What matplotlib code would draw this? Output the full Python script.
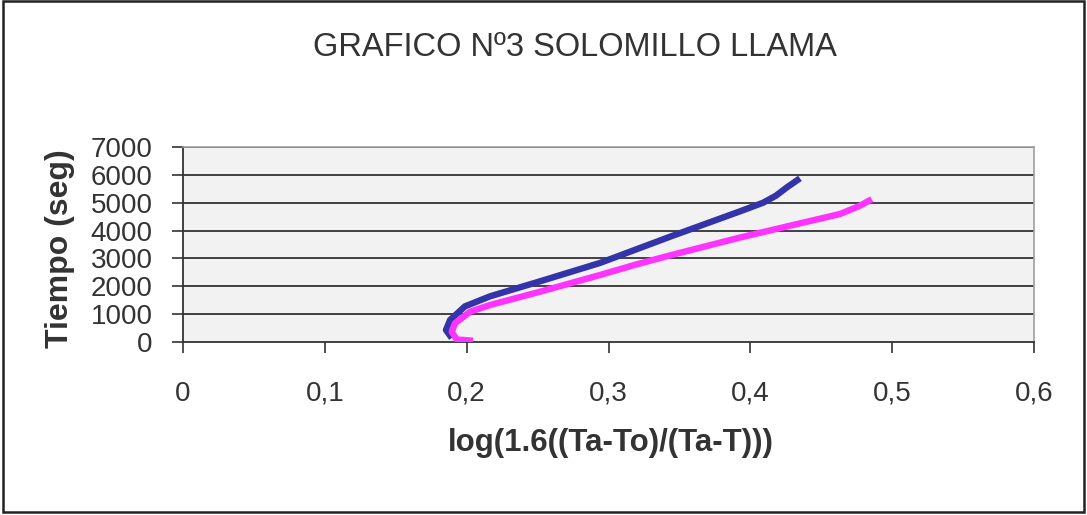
import matplotlib
matplotlib.use("Agg")
import matplotlib.pyplot as plt
from matplotlib.patches import Rectangle
from matplotlib.ticker import FuncFormatter

# Data
blue_x = [0.1895, 0.1854, 0.1883, 0.1988, 0.2165, 0.2517, 0.294, 0.3434, 0.3927, 0.409, 0.418, 0.426, 0.435]
blue_y = [144, 431, 790, 1280, 1640, 2178, 2838, 3780, 4690, 5000, 5250, 5560, 5875]

pink_x = [0.2045, 0.193, 0.1895, 0.1918, 0.2024, 0.2165, 0.2517, 0.294, 0.320, 0.3434, 0.3927, 0.428, 0.4632, 0.4773, 0.4856]
pink_y = [47, 90, 370, 671, 1088, 1328, 1805, 2405, 2790, 3110, 3750, 4175, 4594, 4892, 5125]

title = "GRAFICO Nº3 SOLOMILLO LLAMA"
xlabel = "log(1.6((Ta-To)/(Ta-T)))"
ylabel = "Tiempo (seg)"
x_ticks = [0, 0.1, 0.2, 0.3, 0.4, 0.5, 0.6]
y_ticks = [0, 1000, 2000, 3000, 4000, 5000, 6000, 7000]

plt.rcParams['font.family'] = ['Liberation Sans', 'DejaVu Sans']

W, H = 1087, 515
fig = plt.figure(figsize=(W / 100, H / 100), dpi=100)
fig.patch.set_facecolor('white')
fig.patches.append(Rectangle((0.003, 0.006), 0.994, 0.992, transform=fig.transFigure,
                             fill=False, edgecolor='#222222', linewidth=1.8))

ax = fig.add_axes([183 / W, 1 - 342 / H, (1034 - 183) / W, (342 - 147) / H])
ax.set_facecolor('#F2F2F2')
ax.set_xlim(0, 0.6)
ax.set_ylim(0, 7000)
ax.set_xticks(x_ticks)
ax.set_yticks(y_ticks)
ax.xaxis.set_major_formatter(FuncFormatter(lambda v, p: ('%g' % round(v, 1)).replace('.', ',')))
ax.yaxis.set_major_formatter(FuncFormatter(lambda v, p: '%d' % v))

for yv in y_ticks[1:]:
    ax.axhline(yv, color='#333333', linewidth=1.3, zorder=1)

ax.plot(blue_x, blue_y, color='#3333AA', linewidth=4.6, solid_capstyle='butt',
        solid_joinstyle='round', zorder=3)
ax.plot(pink_x, pink_y, color='#FF33FF', linewidth=4.6, solid_capstyle='butt',
        solid_joinstyle='round', zorder=3)

for s in ['top', 'right']:
    ax.spines[s].set_color('#A0A0A0')
    ax.spines[s].set_linewidth(1.2)
for s in ['left', 'bottom']:
    ax.spines[s].set_color('#333333')
    ax.spines[s].set_linewidth(1.3)

ax.tick_params(axis='y', direction='out', length=8, width=1.2, color='#333333',
               pad=14, labelsize=20, labelcolor='#333333')
ax.tick_params(axis='x', direction='out', length=8, width=1.2, color='#333333',
               pad=20, labelsize=20, labelcolor='#333333')

fig.text(611 / W, 1 - 443 / H, xlabel, ha='center', va='center', fontsize=22.5,
         fontweight='bold', color='#333333')
fig.text(60 / W, 1 - 249 / H, ylabel, ha='center', va='center', fontsize=23,
         fontweight='bold', rotation=90, color='#333333')
fig.text(575 / W, 1 - 48 / H, title, ha='center', va='center', fontsize=23.5,
         color='#333333')

fig.savefig('out.png', dpi=100)
